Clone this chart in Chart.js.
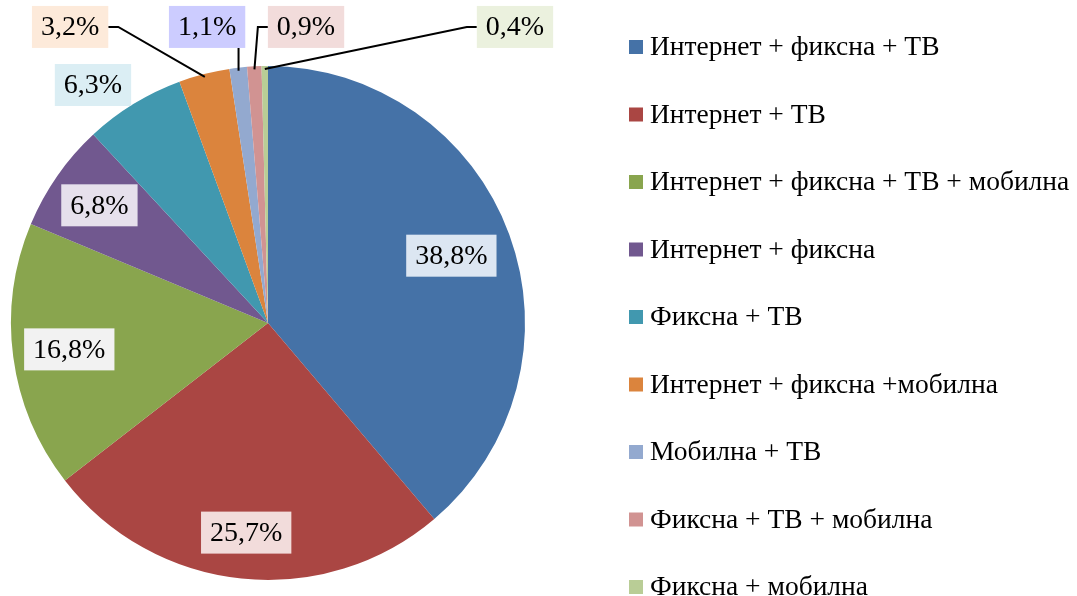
<!DOCTYPE html>
<html>
<head>
<meta charset="utf-8">
<script src="https://cdn.jsdelivr.net/npm/chart.js@4.4.1/dist/chart.umd.min.js"></script>
<style>
  html, body { margin: 0; padding: 0; background: #fff; }
  #wrap { width: 1077px; height: 596px; }
</style>
</head>
<body>
<div id="wrap"><canvas id="pieChart"></canvas></div>
<script>
// Package shares (%)
const labels = [
  'Интернет + фиксна + ТВ',
  'Интернет + ТВ',
  'Интернет + фиксна + ТВ + мобилна',
  'Интернет + фиксна',
  'Фиксна + ТВ',
  'Интернет + фиксна +мобилна',
  'Мобилна + ТВ',
  'Фиксна + ТВ + мобилна',
  'Фиксна + мобилна'
];
const shares = [38.8, 25.7, 16.8, 6.8, 6.3, 3.2, 1.1, 0.9, 0.4];

const colors = ['#4572A7', '#AA4643', '#89A54E', '#71588F', '#4198AF', '#DB843D', '#93A9CF', '#D19392', '#B9CD96'];
const labelBg = ['#DCE6F2', '#F2DCDB', '#F2F2F2', '#E6E0EC', '#DBEEF4', '#FDEADA', '#CCCCFF', '#F2DCDB', '#EBF1DE'];

// where each value label sits: inside (fraction of radius) or outside (offset from centre in radii)
const labelSpots = [
  { r: 0.76 }, { r: 0.82 }, { r: 0.78 }, { r: 0.80 },
  { fx: -0.681, fy: -0.926, noLine: true },
  { fx: -0.770, fy: -1.152 },
  { fx: -0.237, fy: -1.152 },
  { fx: 0.148, fy: -1.152 },
  { fx: 0.961, fy: -1.152 }
];

const fmt = v => v.toFixed(1).replace('.', ',') + '%';

const valueLabels = {
  id: 'valueLabels',
  afterDatasetsDraw(chart) {
    const ctx = chart.ctx;
    const arcs = chart.getDatasetMeta(0).data;
    ctx.save();
    ctx.font = '28px "Liberation Serif", serif';
    ctx.textAlign = 'center';
    ctx.textBaseline = 'middle';
    arcs.forEach((arc, i) => {
      const { x, y, startAngle, endAngle, outerRadius } = arc.getProps(['x', 'y', 'startAngle', 'endAngle', 'outerRadius'], true);
      const mid = (startAngle + endAngle) / 2;
      const spot = labelSpots[i];
      let lx, ly;
      if (spot.r !== undefined) {
        lx = x + Math.cos(mid) * outerRadius * spot.r;
        ly = y + Math.sin(mid) * outerRadius * spot.r;
      } else {
        lx = x + spot.fx * outerRadius;
        ly = y + spot.fy * outerRadius;
      }
      const text = fmt(shares[i]);
      const w = ctx.measureText(text).width + 18;
      const h = 42;
      const bx = lx - w / 2, by = ly - h / 2;

      // leader line for outside labels
      if (spot.r === undefined && !spot.noLine) {
        const ax = x + Math.cos(mid) * (outerRadius - 3);
        const ay = y + Math.sin(mid) * (outerRadius - 3);
        ctx.beginPath();
        ctx.strokeStyle = '#000';
        ctx.lineWidth = 2;
        if (ax > bx && ax < bx + w) {
          ctx.moveTo(ax, by + h);
          ctx.lineTo(ax, ay);
        } else {
          const side = ax < bx ? bx : bx + w;
          const stub = ax < bx ? side - 10 : side + 10;
          ctx.moveTo(side, ly);
          ctx.lineTo(stub, ly);
          ctx.lineTo(ax, ay);
        }
        ctx.stroke();
      }

      ctx.fillStyle = labelBg[i];
      ctx.fillRect(bx, by, w, h);
      ctx.fillStyle = '#000';
      ctx.fillText(text, lx, ly + 1);
    });
    ctx.restore();
  }
};

// legend on the right, drawn by hand for Excel-like spacing
const sideLegend = {
  id: 'sideLegend',
  afterDraw(chart) {
    const ctx = chart.ctx;
    const area = chart.chartArea;
    const x0 = area.right + 104;
    const y0 = 47;
    const step = 67.5;
    ctx.save();
    ctx.font = '27.5px "Liberation Serif", serif';
    ctx.textBaseline = 'middle';
    ctx.textAlign = 'left';
    labels.forEach((name, i) => {
      const cy = y0 + i * step;
      ctx.fillStyle = colors[i];
      ctx.fillRect(x0, cy - 7, 14, 14);
      ctx.fillStyle = '#000';
      ctx.fillText(name, x0 + 21, cy + 1);
    });
    ctx.restore();
  }
};

new Chart(document.getElementById('pieChart'), {
  type: 'pie',
  data: {
    labels: labels,
    datasets: [{
      data: shares,
      backgroundColor: colors,
      borderWidth: 0,
      hoverOffset: 0
    }]
  },
  options: {
    responsive: true,
    maintainAspectRatio: false,
    animation: false,
    layout: { padding: { left: 11, top: 66, right: 552, bottom: 16 } },
    plugins: {
      legend: { display: false },
      tooltip: { enabled: false }
    }
  },
  plugins: [valueLabels, sideLegend]
});
</script>
</body>
</html>
